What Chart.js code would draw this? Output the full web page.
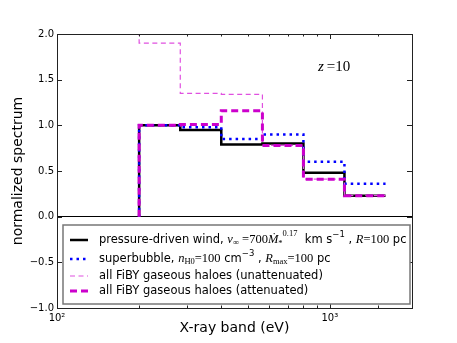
<!DOCTYPE html>
<html>
<head>
<meta charset="utf-8">
<script src="https://cdn.jsdelivr.net/npm/chart.js@4.4.0/dist/chart.umd.min.js"></script>
<style>
  html, body { margin: 0; padding: 0; background: #fff; }
  #wrap { width: 457px; height: 343px; }
</style>
</head>
<body>
<div id="wrap"><canvas id="spectrumChart" width="457" height="343"></canvas></div>
<script>
// bin edges in eV (factor sqrt(2) apart)
const binEdges = [200, 283, 400, 566, 800, 1131, 1600];

// normalized spectrum per band
const windValues = [1.00, 0.95, 0.79, 0.80, 0.48, 0.23];
const bubbleValues = [1.00, 0.98, 0.85, 0.90, 0.60, 0.36];
const unattValues = [1.90, 1.35, 1.34, 0.78, 0.41, 0.23];
const attValues = [1.00, 1.01, 1.16, 0.78, 0.41, 0.23];

// value the step line starts from at the first edge
const startValues = { wind: 0, bubble: 0, unatt: 2.5, att: 0 };

const yTicks = [-1.0, -0.5, 0.0, 0.5, 1.0, 1.5, 2.0];
const xMajorTicks = [100, 1000];
const xTickLabels = ['10\u00b2', '10\u00b3'];

const SANS = '"DejaVu Sans", sans-serif';
const SERIF = '"Liberation Serif", "DejaVu Serif", serif';

// step line: start point, then one point per bin at its left edge, then the last edge
function stepPoints(values, start) {
    const pts = [{ x: binEdges[0], y: start }];
    values.forEach((v, i) => pts.push({ x: binEdges[i], y: v }));
    pts.push({ x: binEdges[binEdges.length - 1], y: values[values.length - 1] });
    return pts;
}

// inward ticks on all four sides + frame
const frameTicks = {
    id: 'frameTicks',
    afterDraw(chart) {
        const { ctx, chartArea: a, scales } = chart;
        ctx.save();
        ctx.strokeStyle = '#222';
        ctx.lineWidth = 1;
        scales.y.ticks.forEach(t => {
            const py = Math.round(scales.y.getPixelForValue(t.value)) + 0.5;
            ctx.beginPath();
            ctx.moveTo(a.left, py); ctx.lineTo(a.left + 5, py);
            ctx.moveTo(a.right, py); ctx.lineTo(a.right - 5, py);
            ctx.stroke();
        });
        scales.x.ticks.forEach(t => {
            const px = Math.round(scales.x.getPixelForValue(t.value)) + 0.5;
            const len = xMajorTicks.includes(t.value) ? 5 : 2.5;
            ctx.beginPath();
            ctx.moveTo(px, a.bottom); ctx.lineTo(px, a.bottom - len);
            ctx.moveTo(px, a.top); ctx.lineTo(px, a.top + len);
            ctx.stroke();
        });
        ctx.strokeRect(Math.round(a.left) + 0.5, Math.round(a.top) + 0.5,
            Math.round(a.right - a.left), Math.round(a.bottom - a.top));
        ctx.restore();
    }
};

// draws a run of text pieces: [text, font, dy]
function drawRich(ctx, x, y, parts) {
    parts.forEach(p => {
        ctx.font = p[1];
        ctx.fillText(p[0], x, y + (p[2] || 0));
        x += ctx.measureText(p[0]).width;
    });
}

const sans = '11.5px ' + SANS;
const mi = 'italic 12.5px ' + SERIF;
const mr = '12.5px ' + SERIF;
const ms = '8.5px ' + SERIF;
const ss = '8.5px ' + SANS;

const legendRows = [
    { color: '#000', width: 2.5, dash: [], parts: [
        ['pressure-driven wind, ', sans], ['v', mi], ['\u221e', ms, 3], [' =700', mr],
        ['\u1e40', mi], ['*', ms, 4], ['0.17', ms, -6], ['  km s', sans], ['\u22121', ss, -5],
        [' , ', sans], ['R', mi], ['=100', mr], [' pc', sans]] },
    { color: '#0000ff', width: 2.5, dash: [2.5, 4], parts: [
        ['superbubble, ', sans], ['n', mi], ['H0', ms, 3], ['=100', mr], [' cm', sans],
        ['\u22123', ss, -5], [' , ', sans], ['R', mi], ['max', ms, 3], ['=100', mr], [' pc', sans]] },
    { color: '#e050e0', width: 1.2, dash: [5, 3.5], parts: [
        ['all FiBY gaseous haloes (unattenuated)', sans]] },
    { color: '#cc00cc', width: 3, dash: [7, 4], parts: [
        ['all FiBY gaseous haloes (attenuated)', sans]] }
];

const innerLegend = {
    id: 'innerLegend',
    afterDraw(chart) {
        const { ctx, chartArea: a } = chart;
        ctx.save();
        const bx = a.left + 6, by = a.top + 191, bw = a.right - a.left - 8, bh = 79;
        ctx.fillStyle = '#fff';
        ctx.fillRect(bx, by, bw, bh);
        ctx.strokeStyle = '#777';
        ctx.lineWidth = 1.5;
        ctx.strokeRect(bx, by, bw, bh);
        const rowY = [240, 259, 276, 291];
        ctx.textBaseline = 'middle';
        legendRows.forEach((r, i) => {
            const y = rowY[i];
            ctx.strokeStyle = r.color;
            ctx.lineWidth = r.width;
            ctx.setLineDash(r.dash);
            ctx.beginPath();
            ctx.moveTo(bx + 7, y); ctx.lineTo(bx + 25, y);
            ctx.stroke();
            ctx.setLineDash([]);
            ctx.fillStyle = '#000';
            drawRich(ctx, bx + 36, y, r.parts);
        });
        // redshift label
        drawRich(ctx, 318, 67, [['z', 'italic 15px ' + SERIF], ['\u2009=10', '15px ' + SERIF]]);
        ctx.restore();
    }
};

const ctx = document.getElementById('spectrumChart').getContext('2d');
const spectrumChart = new Chart(ctx, {
    type: 'line',
    data: {
        datasets: [
            {
                label: 'pressure-driven wind',
                data: stepPoints(windValues, startValues.wind),
                borderColor: '#000',
                borderWidth: 2.5,
                order: 4
            },
            {
                label: 'superbubble',
                data: stepPoints(bubbleValues, startValues.bubble),
                borderColor: '#0000ff',
                borderWidth: 2.5,
                borderDash: [2.5, 4],
                order: 3
            },
            {
                label: 'all FiBY gaseous haloes (unattenuated)',
                data: stepPoints(unattValues, startValues.unatt),
                borderColor: '#e050e0',
                borderWidth: 1.2,
                borderDash: [5, 3.5],
                order: 2
            },
            {
                label: 'all FiBY gaseous haloes (attenuated)',
                data: stepPoints(attValues, startValues.att),
                borderColor: '#cc00cc',
                borderWidth: 3,
                borderDash: [7, 4],
                order: 1
            }
        ]
    },
    options: {
        responsive: false,
        animation: false,
        devicePixelRatio: 1,
        layout: { padding: { top: 34, right: 45, left: 0, bottom: 0 } },
        elements: {
            line: { stepped: 'before', fill: false, tension: 0, borderCapStyle: 'butt' },
            point: { radius: 0, hoverRadius: 0 }
        },
        scales: {
            x: {
                type: 'logarithmic',
                min: 100,
                max: 2000,
                grid: { display: false, drawTicks: false },
                border: { display: false },
                afterFit: s => { s.height = 35; },
                ticks: {
                    autoSkip: false,
                    maxRotation: 0,
                    padding: 4,
                    color: '#000',
                    font: { family: SANS, size: 10 },
                    callback: v => {
                        const i = xMajorTicks.indexOf(v);
                        return i >= 0 ? xTickLabels[i] : '';
                    }
                },
                title: {
                    display: true,
                    text: 'X-ray band (eV)',
                    color: '#000',
                    font: { family: SANS, size: 14 },
                    padding: { top: 0, bottom: 6 }
                }
            },
            y: {
                min: -1,
                max: 2,
                afterFit: s => { s.width = 57; },
                afterBuildTicks: s => { s.ticks = yTicks.map(v => ({ value: v })); },
                grid: {
                    drawTicks: false,
                    color: c => (c.tick && c.tick.value === 0 ? '#000' : 'rgba(0,0,0,0)'),
                    lineWidth: 1
                },
                border: { display: false },
                ticks: {
                    padding: 3,
                    color: '#000',
                    font: { family: SANS, size: 10 },
                    callback: v => (v < 0 ? '\u2212' : '') + Math.abs(v).toFixed(1)
                },
                title: {
                    display: true,
                    text: 'normalized spectrum',
                    color: '#000',
                    font: { family: SANS, size: 14 },
                    padding: { top: 10, bottom: 0 }
                }
            }
        },
        plugins: {
            legend: { display: false },
            tooltip: { enabled: false }
        }
    },
    plugins: [frameTicks, innerLegend]
});
</script>
</body>
</html>
